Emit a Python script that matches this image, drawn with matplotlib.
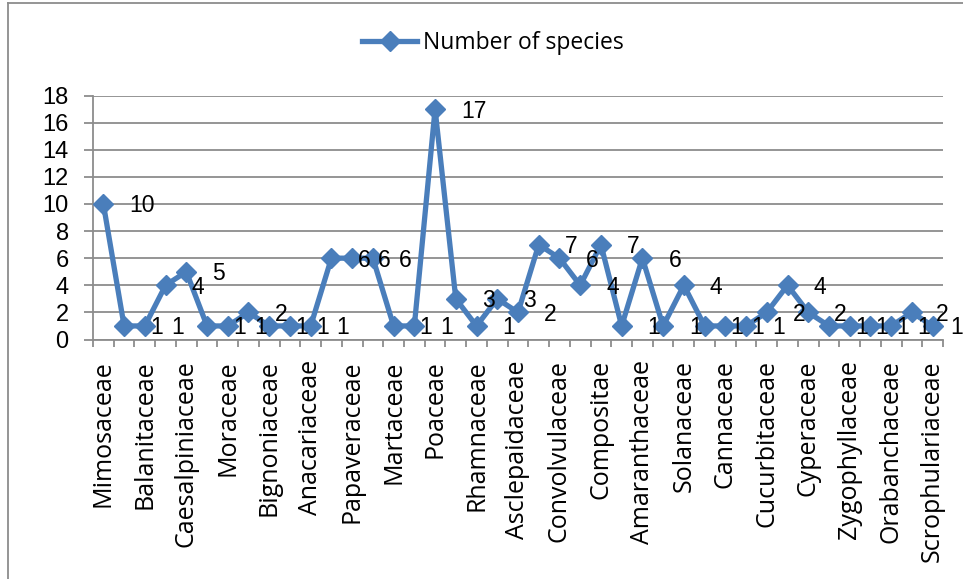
import matplotlib
matplotlib.use("Agg")
import matplotlib.pyplot as plt
from matplotlib.lines import Line2D

families = ["Mimosaceae", "", "Balanitaceae", "", "Caesalpiniaceae", "", "Moraceae", "",
            "Bignoniaceae", "", "Anacariaceae", "", "Papaveraceae", "", "Martaceae", "",
            "Poaceae", "", "Rhamnaceae", "", "Asclepaidaceae", "", "Convolvulaceae", "",
            "Compositae", "", "Amaranthaceae", "", "Solanaceae", "", "Cannaceae", "",
            "Cucurbitaceae", "", "Cyperaceae", "", "Zygophyllaceae", "", "Orabanchaceae", "",
            "Scrophulariaceae"]
species = [10, 1, 1, 4, 5, 1, 1, 2, 1, 1, 1, 6, 6, 6, 1, 1, 17, 3, 1, 3, 2,
           7, 6, 4, 7, 1, 6, 1, 4, 1, 1, 1, 2, 4, 2, 1, 1, 1, 1, 2, 1]
yticks = list(range(0, 19, 2))
series_name = "Number of species"

W, H, DPI = 963, 579, 100
fig = plt.figure(figsize=(W / DPI, H / DPI), dpi=DPI)
ax = fig.add_axes([93 / W, 1 - 339.5 / H, (943 - 93) / W, (339.5 - 95.5) / H])

blue = "#4A7EBB"
grid = "#8C8C8C"
x = list(range(len(species)))
ax.plot(x, species, color=blue, lw=3.8, marker="D", markersize=10.5,
        markerfacecolor=blue, markeredgecolor=blue, zorder=3, clip_on=False)

n = len(species)
for xi, v in zip(x, species):
    if xi == n - 1:
        dx = 18
    elif xi == n - 2:
        dx = 24
    else:
        dx = 26
    ax.annotate(str(v), (xi, v), xytext=(dx, -2), textcoords="offset pixels",
                ha="left", va="center", fontsize=16.5, family="Liberation Sans",
                color="black", annotation_clip=False)

ax.set_xlim(-0.5, n - 0.5)
ax.set_ylim(0, 18)
ax.set_yticks(yticks)
ax.set_yticklabels([str(t) for t in yticks], fontsize=17, family="Liberation Sans")
ax.yaxis.grid(True, color=grid, lw=1.3)
ax.set_axisbelow(True)

label_pos = [i for i, nm in enumerate(families) if nm]
ax.set_xticks(label_pos)
ax.set_xticklabels([families[i] for i in label_pos], rotation=90, fontsize=18,
                   family="Open Sans", va="top", ha="center")
ax.set_xticks([i - 0.5 for i in range(n + 1)], minor=True)
ax.tick_params(axis="x", which="major", length=0, pad=15)
ax.tick_params(axis="x", which="minor", length=5, width=1.3, color=grid, direction="out")
ax.tick_params(axis="y", length=6.5, width=1.3, color=grid, pad=11)

for s in ["top", "right"]:
    ax.spines[s].set_visible(False)
for s in ["left", "bottom"]:
    ax.spines[s].set_color(grid)
    ax.spines[s].set_linewidth(1.3)

handle = Line2D([], [], color=blue, lw=3.8, marker="D", markersize=10.5)
fig.legend([handle], [series_name], loc="center", bbox_to_anchor=(493 / W, 1 - 43 / H),
           frameon=False, prop={"family": "Open Sans", "size": 16.5},
           handlelength=2.4, handletextpad=0.25)

# chart border (top and left visible)
fig.add_artist(Line2D([8 / W, 1.0], [1 - 3 / H, 1 - 3 / H], transform=fig.transFigure,
                      color="#8C8C8C", lw=1.3))
fig.add_artist(Line2D([8 / W, 8 / W], [1 - 3 / H, 0.0], transform=fig.transFigure,
                      color="#8C8C8C", lw=1.3))

fig.savefig("out.png", dpi=DPI, facecolor="white")
